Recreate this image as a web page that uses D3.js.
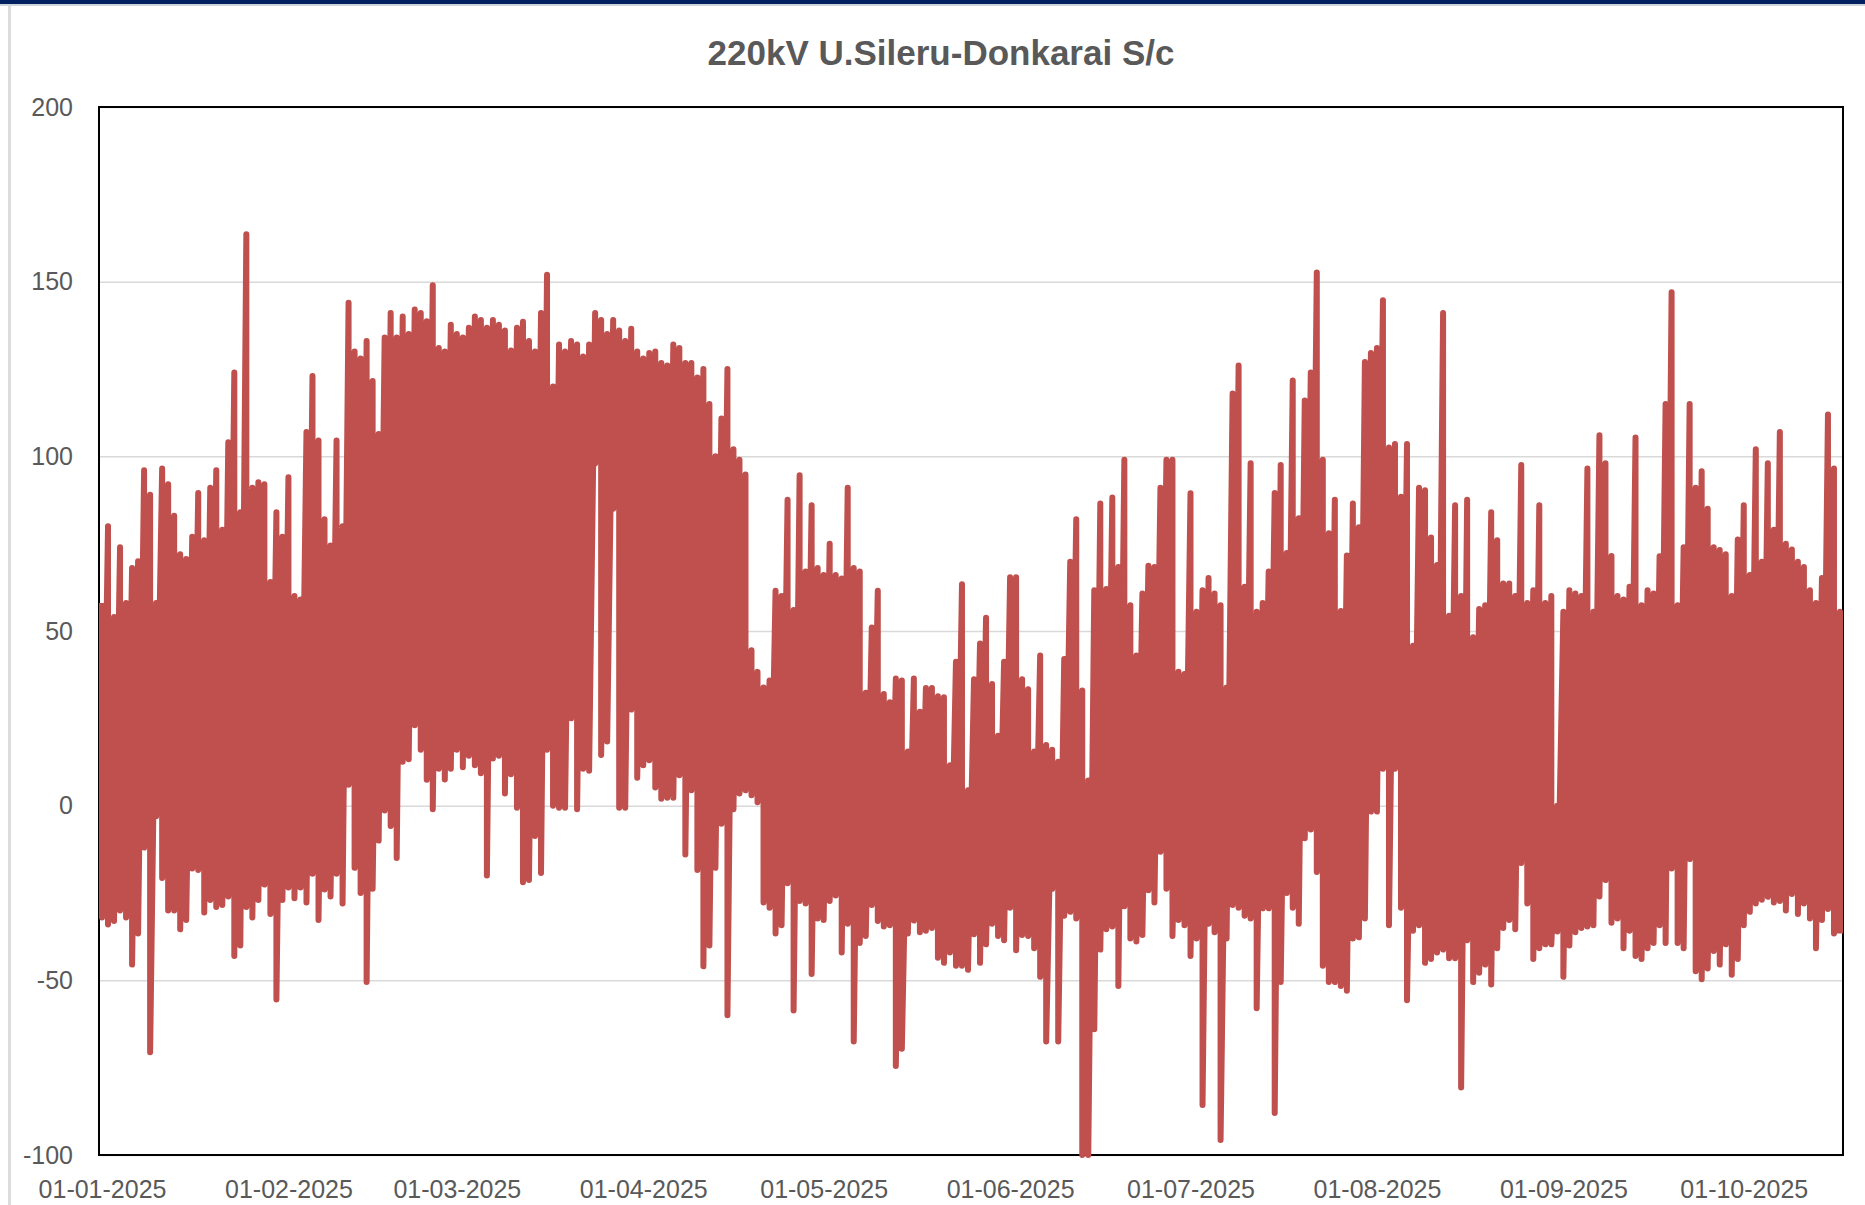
<!DOCTYPE html>
<html>
<head>
<meta charset="utf-8">
<script src="https://cdn.jsdelivr.net/npm/d3@7"></script>
<style>
  html, body { margin: 0; padding: 0; background: #fff; }
  svg text { font-family: "Liberation Sans", Arial, sans-serif; }
</style>
</head>
<body>
<svg id="chart"></svg>
<script>
// Daily high / low of the line flow (MW), one value per day from 01-01-2025
const startDate = Date.UTC(2025, 0, 1);
const endDate   = Date.UTC(2025, 9, 18);

const dayMax = [
  58, 80, 54, 74, 58, 68, 70, 96, 89, 58,
  96.5, 92, 83, 72, 70.6, 77, 89.5, 76, 91, 96,
  79, 104, 124, 84, 163.6, 91, 92.6, 92, 64, 84,
  77, 94, 60, 59, 107, 123, 104.5, 82, 74.5, 104.5,
  80, 144, 130, 128, 133, 121.6, 106.4, 134, 141, 134,
  140, 135, 142, 141, 138.7, 149, 131, 130, 137.7, 135,
  134, 136.8, 140, 139, 136.8, 139, 137.7, 136, 130.3, 136.8,
  138.5, 133, 130, 141, 152, 120, 132, 130, 133, 132,
  128.6, 132, 141, 139, 135, 139, 136, 133, 136.5, 130,
  128, 129.6, 130, 126.7, 126, 132, 131, 126.7, 126.7, 122.6,
  125, 115, 100, 110.8, 125, 102, 99, 94.8, 44.5, 38.3,
  33.8, 35.8, 61.5, 60, 87.6, 56, 94.6, 67, 86, 68,
  66, 75, 66, 65, 91, 68, 67, 32.3, 51, 61.5,
  32, 29.6, 36.4, 35.8, 15.5, 36.4, 26.9, 33.7, 33.7, 31.3,
  31, 11.6, 41.2, 63.4, 4.4, 36.2, 46.4, 53.8, 34.8, 20,
  41.2, 65.4, 65.4, 36.2, 33.3, 15.5, 43, 17.4, 16, 12.6,
  42, 69.8, 82, 33, 7.2, 61.7, 86.5, 62, 88.2, 68.3,
  99, 57.4, 43, 60.7, 68.7, 68.3, 91, 99, 99, 38.3,
  37.7, 89.4, 55.5, 61.7, 65.2, 60.7, 57.4, 33.8, 118, 126,
  62.7, 98, 55.5, 58, 67, 89.5, 97.5, 72.3, 121.7, 82.3,
  116, 124, 152.6, 99, 78, 87.6, 55.7, 71.6, 86.5, 79.7,
  127, 129.6, 131, 144.7, 102.5, 103.5, 88.4, 103.5, 45.8, 91,
  90.3, 76.8, 68.9, 141, 54.4, 86, 60, 87.6, 48.2, 56.3,
  57.4, 84, 76, 63.6, 63.6, 60, 97.5, 58, 61.7, 86,
  58, 60, 0, 55.5, 61.7, 60.7, 60, 96.5, 55.5, 106,
  98, 71.5, 60, 59, 62.7, 105.4, 57.4, 61.7, 60.7, 71.4,
  115, 147, 57.4, 74, 115, 91, 95.7, 85, 74, 73.2,
  72, 60, 76.2, 86, 66, 102, 69.8, 98, 79, 107,
  75, 73.3, 69.8, 68.3, 61.7, 58, 65.2, 112, 96.5, 55.5
];

const dayMin = [
  -32, -34, -33, -30, -32, -45.5, -36.6, -12, -70.6, -3,
  -20.7, -30, -30, -35.4, -32.7, -18, -18.4, -30.6, -27, -29,
  -28.4, -26, -43, -40, -29, -32, -27, -22.6, -31, -55.5,
  -27, -23.4, -26.5, -23.4, -27.7, -19.5, -32.7, -24, -26, -19.5,
  -28, 6, -17.8, -25, -50.5, -23.8, -10, -1.4, -5.8, -15,
  12.6, 13.3, 23, 16, 7.4, -1, 10.6, 7.5, 10.6, 16,
  11, 14.3, 11.6, 9.3, -20, 13.5, 14.3, 3.5, 9, -0.6,
  -21.9, -21.3, -8.7, -19.3, 16, 0, -0.6, -0.6, 25, -1,
  10.6, 10, 98, 14.5, 18.4, 85, -0.6, -0.6, 27.5, 8,
  11.6, 13, 5.2, 2, 2.3, 2.3, 8.7, -14, 4.4, -18.4,
  -46, -40, -17.8, -5.2, -60, -1, 3.5, 4.4, 3, 1,
  -27.7, -29.2, -36.6, -34.2, -22.2, -58.6, -27.3, -28, -48.2, -32.3,
  -32.7, -27.3, -25.7, -42, -33.8, -67.5, -39.3, -37.3, -28.4, -33,
  -34.6, -34.2, -74.5, -69.6, -36.6, -32.9, -36.2, -35.8, -35, -43.5,
  -45, -42, -45.8, -45.8, -47, -36.8, -45, -39.7, -33.8, -37.3,
  -38.5, -29.2, -41.4, -37, -37.3, -40.8, -49, -67.5, -23.8, -67.5,
  -31.5, -30.4, -32.3, -100, -100, -64, -41.2, -35.4, -34.6, -51.6,
  -28.8, -38, -38.9, -37, -24.2, -27.7, -13.2, -23.8, -37.3, -32.7,
  -34.2, -43, -38, -85.7, -33.8, -36.2, -95.7, -38, -28.4, -29.2,
  -31.5, -32.3, -58, -29.4, -29.4, -88, -50.5, -25, -29.2, -33.8,
  -9.3, -6.8, -19, -45.8, -50.5, -50.5, -51.6, -53, -38, -37.7,
  -32.3, -1.7, -1.7, 10.6, -34.2, 10.6, -29.2, -55.7, -35.8, -34.2,
  -45, -43.9, -42, -41.2, -43.7, -43.7, -80.7, -38.5, -50.5, -47.8,
  -45.5, -51.2, -40.8, -35, -32.7, -35.4, -16.4, -28, -43.9, -40.8,
  -39.7, -39.7, -36, -49, -40, -36.2, -35, -34.6, -34.2, -26,
  -21.3, -33.5, -32.3, -40.8, -35.8, -43, -43.9, -40.8, -39.3, -34.2,
  -39.3, -18, -39.3, -40.8, -15.3, -47.4, -49.7, -46.6, -41.6, -45.5,
  -39.7, -48.4, -43.9, -34.2, -30.4, -28, -26.9, -26.1, -27.7, -27.3,
  -30, -25.3, -31, -28, -32.3, -40.8, -32.7, -29.6, -36.6, -36.6
];

const yTicks = [-100, -50, 0, 50, 100, 150, 200];
const title  = '220kV U.Sileru-Donkarai S/c';

const Chart = (() => {
  const W = 1865, H = 1205;
  const m = { top: 107, right: 22, bottom: 50, left: 99 };
  const iW = W - m.left - m.right;
  const iH = H - m.top - m.bottom;
  const DAY = 864e5;
  const RED = '#c0504d';
  const GREY_TXT = '#595959';

  function render() {
    const svg = d3.select('#chart')
      .attr('width', W)
      .attr('height', H)
      .attr('viewBox', `0 0 ${W} ${H}`);

    svg.append('rect').attr('width', W).attr('height', H).attr('fill', '#fff');

    // frame decoration from the slide: navy top rule, light left rule
    svg.append('rect').attr('x', 0).attr('y', 0).attr('width', W).attr('height', 4).attr('fill', '#002060');
    svg.append('rect').attr('x', 0).attr('y', 4).attr('width', W).attr('height', 2).attr('fill', '#cfd3da');
    svg.append('rect').attr('x', 8).attr('y', 6).attr('width', 3).attr('height', H - 6).attr('fill', '#dcdcdc');

    svg.append('text')
      .attr('x', 941)
      .attr('y', 52)
      .attr('text-anchor', 'middle')
      .attr('dominant-baseline', 'central')
      .attr('font-size', 35)
      .attr('font-weight', 'bold')
      .attr('fill', GREY_TXT)
      .text(title);

    const g = svg.append('g').attr('transform', `translate(${m.left},${m.top})`);

    const x = d3.scaleUtc().domain([new Date(startDate), new Date(endDate)]).range([0, iW]);
    const y = d3.scaleLinear().domain([yTicks[0], yTicks[yTicks.length - 1]]).range([iH, 0]);

    // Y axis + grid (plain hyphen for negatives, as in the source)
    g.append('g')
      .call(d3.axisLeft(y).tickValues(yTicks).tickFormat(v => String(v)).tickSize(-iW).tickPadding(26))
      .call(ax => {
        ax.select('.domain').remove();
        ax.selectAll('.tick line').attr('stroke', '#d9d9d9').attr('stroke-width', 1.5);
        ax.selectAll('.tick text')
          .attr('font-size', 25)
          .attr('fill', GREY_TXT)
          .attr('font-family', '"Liberation Sans", Arial, sans-serif');
      });

    // X axis — one label per month, centred on that day's slot
    const monthTicks = d3.utcMonth.range(new Date(startDate), new Date(endDate))
      .map(d => new Date(+d + DAY / 2));

    g.append('g')
      .attr('transform', `translate(0,${iH})`)
      .call(
        d3.axisBottom(x)
          .tickValues(monthTicks)
          .tickFormat(d3.utcFormat('%d-%m-%Y'))
          .tickSize(0)
          .tickPadding(25)
      )
      .call(ax => {
        ax.select('.domain').remove();
        ax.selectAll('.tick text')
          .attr('font-size', 25)
          .attr('fill', GREY_TXT)
          .attr('font-family', '"Liberation Sans", Arial, sans-serif');
      });

    // plot border
    g.append('rect')
      .attr('width', iW)
      .attr('height', iH)
      .attr('fill', 'none')
      .attr('stroke', '#000')
      .attr('stroke-width', 2);

    // each day: vertical run from high to low, then on to the next day's high
    const pts = [];
    dayMax.forEach((hi, i) => {
      pts.push([i, hi], [i, dayMin[i]]);
    });

    const line = d3.line()
      .x(p => x(new Date(startDate + (p[0] + 0.5) * DAY)))
      .y(p => y(p[1]));

    g.append('path')
      .datum(pts)
      .attr('d', line)
      .attr('fill', 'none')
      .attr('stroke', RED)
      .attr('stroke-width', 6)
      .attr('stroke-linejoin', 'round');
  }

  return { render };
})();

Chart.render();
</script>
</body>
</html>
